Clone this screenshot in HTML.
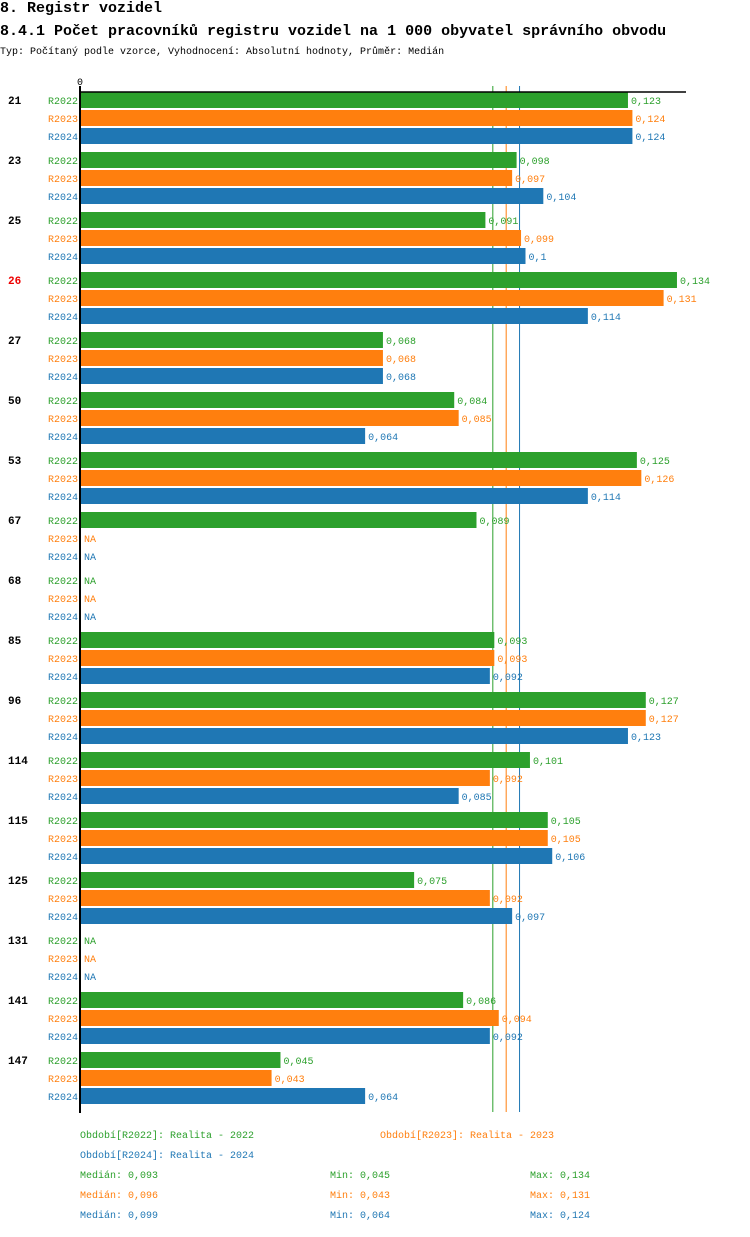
<!DOCTYPE html>
<html><head><meta charset="utf-8"><style>
body{margin:0;background:#fff;width:750px;height:1232px;overflow:hidden;font-family:"Liberation Mono",monospace}
svg text{font-family:"Liberation Mono",monospace}
</style></head><body>
<svg id="c" width="750" height="1232">
<text x="0" y="12" font-size="15" font-weight="bold">8. Registr vozidel</text>
<text x="0" y="35" font-size="15" font-weight="bold">8.4.1 Počet pracovníků registru vozidel na 1 000 obyvatel správního obvodu</text>
<text x="0" y="54" font-size="10">Typ: Počítaný podle vzorce, Vyhodnocení: Absolutní hodnoty, Průměr: Medián</text>
<text x="80" y="85" font-size="10" text-anchor="middle">0</text>
<g id="marks"></g>
</svg>
<script>
const categories=["21","23","25","26","27","50","53","67","68","85","96","114","115","125","131","141","147"];
const highlighted=["26"];
const seriesNames=["R2022","R2023","R2024"];
const colors=["#2ca02c","#ff7f0e","#1f77b4"];
const r2022=[0.123,0.098,0.091,0.134,0.068,0.084,0.125,0.089,null,0.093,0.127,0.101,0.105,0.075,null,0.086,0.045];
const r2023=[0.124,0.097,0.099,0.131,0.068,0.085,0.126,null,null,0.093,0.127,0.092,0.105,0.092,null,0.094,0.043];
const r2024=[0.124,0.104,0.1,0.114,0.068,0.064,0.114,null,null,0.092,0.123,0.085,0.106,0.097,null,0.092,0.064];
const medians=[0.093,0.096,0.099];
const mins=[0.045,0.043,0.064];
const maxs=[0.134,0.131,0.124];
const periodLabels=["Období[R2022]: Realita - 2022","Období[R2023]: Realita - 2023","Období[R2024]: Realita - 2024"];
const series=[r2022,r2023,r2024];
const NS="http://www.w3.org/2000/svg";
const g=document.getElementById('marks');
const x=v=>80+v*4455;
const yBar=(ci,si)=>92+ci*60+si*18;
const fmt=v=>String(v).replace('.',',');
function mk(tag,attrs,txt){const e=document.createElementNS(NS,tag);for(const k in attrs)e.setAttribute(k,attrs[k]);if(txt!=null)e.textContent=txt;g.appendChild(e);return e;}
medians.forEach((m,si)=>{
  const ln=mk('line',{x1:x(m)-1.5,x2:x(m)-1.5,y1:86,y2:1112,stroke:colors[si],'stroke-width':1});
  
  
});
categories.forEach((c,ci)=>{
  const t=mk('text',{x:8,y:yBar(ci,0)+12,'font-size':11,'font-weight':'bold',fill:highlighted.includes(c)?'#e00':'#000'},c);
  
  
  series.forEach((s,si)=>{
    const y=yBar(ci,si);
    const l=mk('text',{x:78,y:y+12,'font-size':10,'text-anchor':'end',fill:colors[si]},seriesNames[si]);
    
    
    const v=s[ci];
    if(v==null){
      const n=mk('text',{x:84,y:y+12,'font-size':10,fill:colors[si]},'NA');
      
      
    }else{
      const r=mk('rect',{x:80,y:y,width:x(v)-80,height:16,fill:colors[si]});
      
      
      const vl=mk('text',{x:x(v)+3,y:y+12,'font-size':10,fill:colors[si]},fmt(v));
      
      
    }
  });
});
const ax=mk('line',{x1:80,x2:686,y1:92,y2:92,stroke:'#000','stroke-width':1.5});


const ay=mk('line',{x1:80,x2:80,y1:86,y2:1113,stroke:'#000','stroke-width':2});


const legPos=[[80,1138],[380,1138],[80,1158]];
periodLabels.forEach((p,i)=>{
  const t=mk('text',{x:legPos[i][0],y:legPos[i][1],'font-size':10,fill:colors[i]},p);
  
  
});
[0,1,2].forEach(i=>{
  const y=1178+i*20;
  const a=mk('text',{x:80,y:y,'font-size':10,fill:colors[i]},'Medián: '+fmt(medians[i]));
  
  
  const b=mk('text',{x:330,y:y,'font-size':10,fill:colors[i]},'Min: '+fmt(mins[i]));
  
  
  const c=mk('text',{x:530,y:y,'font-size':10,fill:colors[i]},'Max: '+fmt(maxs[i]));
  
  
});
</script>
</body></html>
